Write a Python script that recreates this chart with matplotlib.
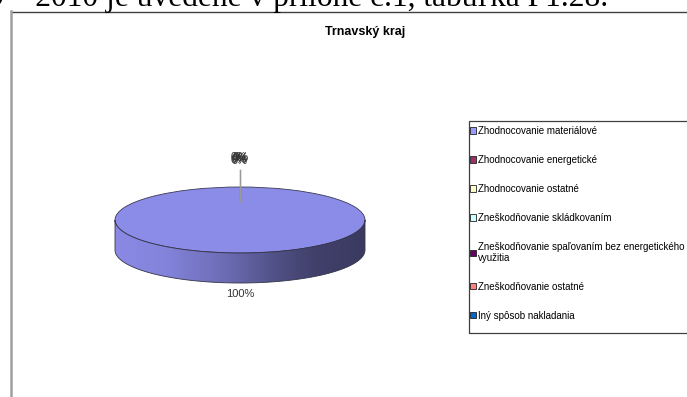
import numpy as np
import matplotlib
matplotlib.use("Agg")
import matplotlib.pyplot as plt
from matplotlib.patches import Patch, Rectangle, Polygon
from matplotlib.lines import Line2D
from matplotlib.colors import to_rgb

# ---------------- data ----------------
categories = [
    "Zhodnocovanie materiálové",
    "Zhodnocovanie energetické",
    "Zhodnocovanie ostatné",
    "Zneškodňovanie skládkovaním",
    "Zneškodňovanie spaľovaním bez energetického\nvyužitia",
    "Zneškodňovanie ostatné",
    "Iný spôsob nakladania",
]
values = [100, 0, 0, 0, 0, 0, 0]
colors = ["#9999FF", "#993366", "#FFFFCC", "#CCFFFF", "#660066", "#FF8080", "#0066CC"]
title = "Trnavský kraj"
page_text = "2009 – 2010 je uvedené v prílohe č.1, tabuľka P1.28."

plt.rcParams["font.family"] = ["Liberation Sans", "DejaVu Sans"]

W, H = 687, 397
fig = plt.figure(figsize=(W / 100, H / 100), dpi=100)


def fx(px):
    return px / W


def fy(py):
    return 1 - py / H


# text of the document page above the chart (cut at the top)
fig.text(fx(608), fy(6), page_text, ha="right", va="baseline",
         family=["Liberation Serif", "DejaVu Serif"], fontsize=22.6, color="black")

# chart frame
fig.add_artist(Line2D([fx(11), fx(687)], [fy(11.5), fy(11.5)], color="#404040", lw=1.0))
fig.add_artist(Line2D([fx(11), fx(11)], [fy(11), fy(397)], color="#a0a0a0", lw=1.8))

fig.text(fx(365), fy(32), title, ha="center", va="center", fontweight="bold", fontsize=9)

# ---------------- pie ----------------
PX_X, PX_Y = 125.0, 33.0          # pixels per data unit
left, right, top, bottom = 90, 390, 140, 310
cx_px, cy_px = 240, 220
ax = fig.add_axes([fx(left), fy(bottom), (right - left) / W, (bottom - top) / H])


def shade(c, f):
    r, g, b = to_rgb(c)
    return (r * f, g * f, b * f)


top_colors = [shade(c, 0.91) for c in colors]
wedges, _ = ax.pie(values, colors=top_colors, startangle=90, counterclock=False,
                   radius=1, center=(0, 0),
                   wedgeprops=dict(edgecolor="#3a3a55", linewidth=0.6))
ax.set_aspect("auto")
ax.set_xlim(-(cx_px - left) / PX_X, (right - cx_px) / PX_X)
ax.set_ylim(-(bottom - cy_px) / PX_Y, (cy_px - top) / PX_Y)
ax.axis("off")

D = 30 / PX_Y   # depth of the 3D side
prof_u = [0.0, 0.2, 0.45, 0.65, 0.8, 1.0]
prof_f = [0.90, 0.86, 0.70, 0.52, 0.42, 0.38]

for w, v, c in zip(wedges, values, colors):
    if v <= 0:
        w.set_edgecolor("none")
        w.set_linewidth(0)
        continue
    t = np.radians(np.linspace(w.theta1, w.theta2, 1441))
    t = t[np.sin(t) <= 1e-9]
    if len(t) < 2:
        continue
    xs = np.cos(t)
    ys = np.sin(t)
    poly_xy = np.concatenate([np.column_stack([xs, ys]),
                              np.column_stack([xs[::-1], ys[::-1] - D])])
    poly = Polygon(poly_xy, closed=True, facecolor="none", edgecolor="#34344a",
                   linewidth=0.6, zorder=3)
    ax.add_patch(poly)
    u = np.linspace(0, 1, 400)
    f = np.interp(u, prof_u, prof_f)
    base = np.array(to_rgb(c))
    img = (base[None, :] * f[:, None])[None, :, :]
    im = ax.imshow(img, extent=(xs.min(), xs.max(), ys.min() - D, ys.max()),
                   aspect="auto", interpolation="bilinear", zorder=2)
    im.set_clip_path(poly)

# labels
total = sum(values)
zero_offsets = [(0, 0), (1, 3), (-1, 1), (1, 4), (0, 2), (-1, 4)]
zi = 0
for w, v in zip(wedges, values):
    mid = np.radians((w.theta1 + w.theta2) / 2)
    pct = f"{v / total * 100:.0f}%"
    if np.sin(mid) > 0:
        # label above with leader line
        ax.plot([0.55 * np.cos(mid), 1.52 * np.cos(mid)],
                [0.55 * np.sin(mid), 1.52 * np.sin(mid)],
                color="#9a9a9a", lw=0.8, zorder=4)
        dx, dy = zero_offsets[zi % len(zero_offsets)]
        zi += 1
        ax.annotate(pct, (np.cos(mid) * 1.64, np.sin(mid) * 1.64),
                    xytext=(dx * 0.72, dy * 0.72), textcoords="offset points",
                    ha="center", va="bottom", fontsize=8, color="#333333",
                    annotation_clip=False)
    else:
        ax.annotate(pct, (np.cos(mid) * 1.0, np.sin(mid) * 1.0 - D),
                    xytext=(0, -4.5), textcoords="offset points",
                    ha="center", va="top", fontsize=8, color="#333333",
                    annotation_clip=False)

# ---------------- legend ----------------
handles = [Patch(facecolor=c, edgecolor="#222222", linewidth=0.6) for c in colors]
leg = fig.legend(handles, categories, loc="upper left",
                 bbox_to_anchor=(fx(470), fy(126)), frameon=False, fontsize=7,
                 handlelength=0.6, handleheight=0.6, handletextpad=0.25,
                 labelspacing=1.95, borderpad=0.0, borderaxespad=0.0)
for txt in leg.get_texts():
    txt.set_linespacing(1.1)
fig.add_artist(Rectangle((fx(469), fy(333)), fx(240), (333 - 121) / H,
                         transform=fig.transFigure, facecolor="none",
                         edgecolor="#404040", linewidth=0.9, clip_on=False))

fig.savefig("out.png", dpi=100)
